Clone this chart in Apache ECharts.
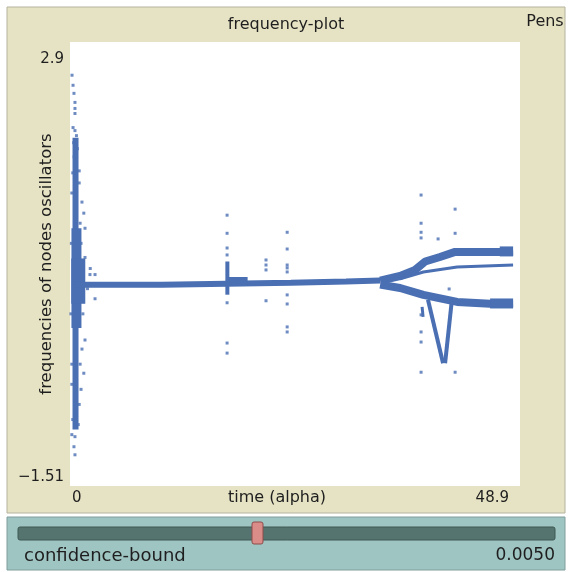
<!DOCTYPE html>
<html>
<head>
<meta charset="utf-8">
<script src="https://cdn.jsdelivr.net/npm/echarts@6/dist/echarts.min.js"></script>
<style>
  html, body { margin: 0; padding: 0; background: #fff; }
  #chart { width: 572px; height: 572px; }
</style>
</head>
<body>
<div id="chart"></div>
<script>
// axis ranges and labels as shown by the plot
var xRange = [0, 48.9];
var yRange = [-1.51, 2.9];
var xTicks = [0, 48.9];
var yTicks = [-1.51, 2.9];

// dense parts of the trace (drawn as thick strokes)
var burstColumn = [[0.6, 1.95], [0.6, -0.95]];
var burstCore = [[0.7, 1.05], [0.7, 0.06]];
var burstFlare = [[0.9, 0.75], [0.9, 0.3]];
var mainBand = [[0.5, 0.49], [10, 0.49], [17, 0.5], [24, 0.51], [30, 0.52], [33.7, 0.53]];
var spikeBlob = [[17.1, 0.52], [19.3, 0.52]];
var spikeStem = [[17.1, 0.72], [17.1, 0.39]];
var upperBranch = [[33.7, 0.53], [35.87, 0.576], [37.5, 0.636], [38.6, 0.72], [40.2, 0.765], [41.85, 0.815], [46.7, 0.815], [48.15, 0.82]];
var upperTip = [[46.7, 0.82], [48.15, 0.82]];
var middleBranch = [[35.87, 0.547], [38.4, 0.616], [42.07, 0.666], [48.15, 0.686]];
var lowerBranch = [[33.7, 0.49], [35.87, 0.457], [38.4, 0.388], [42.07, 0.318], [45.65, 0.3], [48.15, 0.305]];
var lowerTip = [[45.65, 0.303], [48.15, 0.303]];
var dipLeft = [[38.9, 0.34], [40.54, -0.29]];
var dipRight = [[41.5, 0.34], [40.76, -0.29]];
var dipSpur = [[38.26, 0.27], [38.37, 0.17]];

// scattered single readings
var burstDots = [
  [0.22, 2.57], [0.33, 2.47], [0.43, 2.39], [0.54, 2.3], [0.54, 2.24], [0.54, 2.19],
  [0.33, 2.05], [0.54, 2.02], [0.7, 1.97], [0.4, 1.9], [0.8, 1.84], [0.45, 1.76],
  [1.0, 1.62], [0.3, 1.6], [1.0, 1.5], [0.2, 1.4], [1.3, 1.31], [1.5, 1.2],
  [1.1, 1.1], [1.63, 1.05], [1.2, 0.9], [0.15, 0.9], [1.63, 0.76], [2.2, 0.65],
  [2.17, 0.59], [2.72, 0.59], [1.9, 0.45], [2.72, 0.35], [1.4, 0.2], [0.1, 0.2],
  [1.63, -0.06], [1.3, -0.15], [1.1, -0.3], [0.2, -0.3], [1.5, -0.39], [0.2, -0.5],
  [1.2, -0.55], [1.0, -0.7], [0.3, -0.85], [0.9, -0.9], [0.2, -1.0], [0.54, -1.02],
  [0.43, -1.12], [0.54, -1.2]
];
var spikeDots = [
  [17.07, 1.18], [17.07, 1.0], [17.07, 0.854], [17.07, 0.785], [17.07, 0.31],
  [17.07, -0.09], [17.07, -0.19],
  [21.3, 0.735], [21.3, 0.685], [21.3, 0.636], [21.3, 0.33],
  [23.6, 1.01], [23.6, 0.844], [23.6, 0.685], [23.6, 0.656], [23.6, 0.616],
  [23.6, 0.388], [23.6, 0.298], [23.6, 0.07], [23.6, 0.02]
];
var lateDots = [
  [38.15, 1.38], [38.15, 1.1], [38.15, 1.01], [38.15, 0.954], [38.15, 0.19],
  [38.15, 0.02], [38.15, -0.08], [38.15, -0.38],
  [41.85, 1.24], [41.85, 1.0], [41.85, -0.38],
  [40.0, 0.944], [41.2, 0.447]
];

var blue = '#4a6fb3';
var labelFont = 'DejaVu Sans';
var ink = '#1e1e1e';

function stroke(data, width) {
  return {
    type: 'line', data: data, symbol: 'none', silent: true,
    lineStyle: { color: blue, width: width, cap: 'butt' }
  };
}
function dots(data) {
  return {
    type: 'scatter', data: data, symbol: 'rect', symbolSize: 3, silent: true,
    itemStyle: { color: blue }
  };
}

var chart = echarts.init(document.getElementById('chart'));
chart.setOption({
  animation: false,
  backgroundColor: '#ffffff',
  title: {
    text: 'frequency-plot', left: 'center', top: 12,
    textStyle: { fontFamily: labelFont, fontSize: 16, fontWeight: 'normal', color: ink }
  },
  grid: {
    left: 70, right: 52, top: 42, bottom: 86, outerBoundsMode: 'none',
    show: true, backgroundColor: '#fff', borderWidth: 0
  },
  xAxis: {
    type: 'value', min: xRange[0], max: xRange[1],
    name: 'time (alpha)', nameLocation: 'middle', nameGap: 4, nameMoveOverlap: false,
    nameTextStyle: { fontFamily: labelFont, fontSize: 16, color: ink, verticalAlign: 'top', padding: [0, 36, 0, 0] },
    axisLine: { show: false }, axisTick: { show: false }, splitLine: { show: false },
    axisLabel: {
      customValues: xTicks, fontFamily: labelFont, fontSize: 15, color: ink, margin: 5,
      alignMinLabel: 'left', alignMaxLabel: 'right', padding: [0, 11, 0, 2]
    }
  },
  yAxis: {
    type: 'value', min: yRange[0], max: yRange[1],
    name: 'frequencies of nodes oscillators', nameLocation: 'middle', nameGap: 15, nameRotate: 90,
    nameMoveOverlap: false,
    nameTextStyle: { fontFamily: labelFont, fontSize: 16.5, color: ink },
    axisLine: { show: false }, axisTick: { show: false }, splitLine: { show: false },
    axisLabel: {
      customValues: yTicks, fontFamily: labelFont, fontSize: 15, color: ink, margin: 6,
      verticalAlignMinLabel: 'bottom', verticalAlignMaxLabel: 'top', padding: [10, 0, 1, 0],
      formatter: function (v) { return String(v).replace('-', '\u2212'); }
    }
  },
  graphic: [
    { type: 'rect', z: -10, shape: { x: 7, y: 7, width: 558, height: 506 },
      style: { fill: '#e6e3c4', stroke: '#b5b39e', lineWidth: 1 } },
    { type: 'text', z: 10, x: 545, y: 22,
      style: { text: 'Pens', fontFamily: labelFont, fontSize: 16, fill: ink, align: 'center', verticalAlign: 'middle' } },
    { type: 'rect', z: -10, shape: { x: 7, y: 517, width: 558, height: 53 },
      style: { fill: '#9fc5c2', stroke: '#7f9e9b', lineWidth: 1 } },
    { type: 'rect', z: 10, shape: { x: 18, y: 527, width: 537, height: 13, r: 2 },
      style: { fill: '#56746f', stroke: '#3e5854', lineWidth: 1 } },
    { type: 'rect', z: 11, shape: { x: 252, y: 522, width: 11, height: 22, r: 2 },
      style: { fill: '#d98c88', stroke: '#8d4d4a', lineWidth: 1 } },
    { type: 'text', z: 10, x: 24, y: 556,
      style: { text: 'confidence-bound', fontFamily: labelFont, fontSize: 18, fill: ink, verticalAlign: 'middle' } },
    { type: 'text', z: 10, x: 555, y: 556,
      style: { text: '0.0050', fontFamily: labelFont, fontSize: 17, fill: ink, align: 'right', verticalAlign: 'middle' } }
  ],
  series: [
    stroke(burstColumn, 6),
    stroke(burstCore, 10),
    stroke(burstFlare, 14),
    stroke(mainBand, 6),
    stroke(spikeBlob, 9),
    stroke(spikeStem, 4),
    stroke(upperBranch, 8),
    stroke(upperTip, 10),
    stroke(middleBranch, 3),
    stroke(lowerBranch, 8),
    stroke(lowerTip, 10),
    stroke(dipLeft, 4),
    stroke(dipRight, 4),
    stroke(dipSpur, 3),
    dots(burstDots),
    dots(spikeDots),
    dots(lateDots)
  ]
});
</script>
</body>
</html>
